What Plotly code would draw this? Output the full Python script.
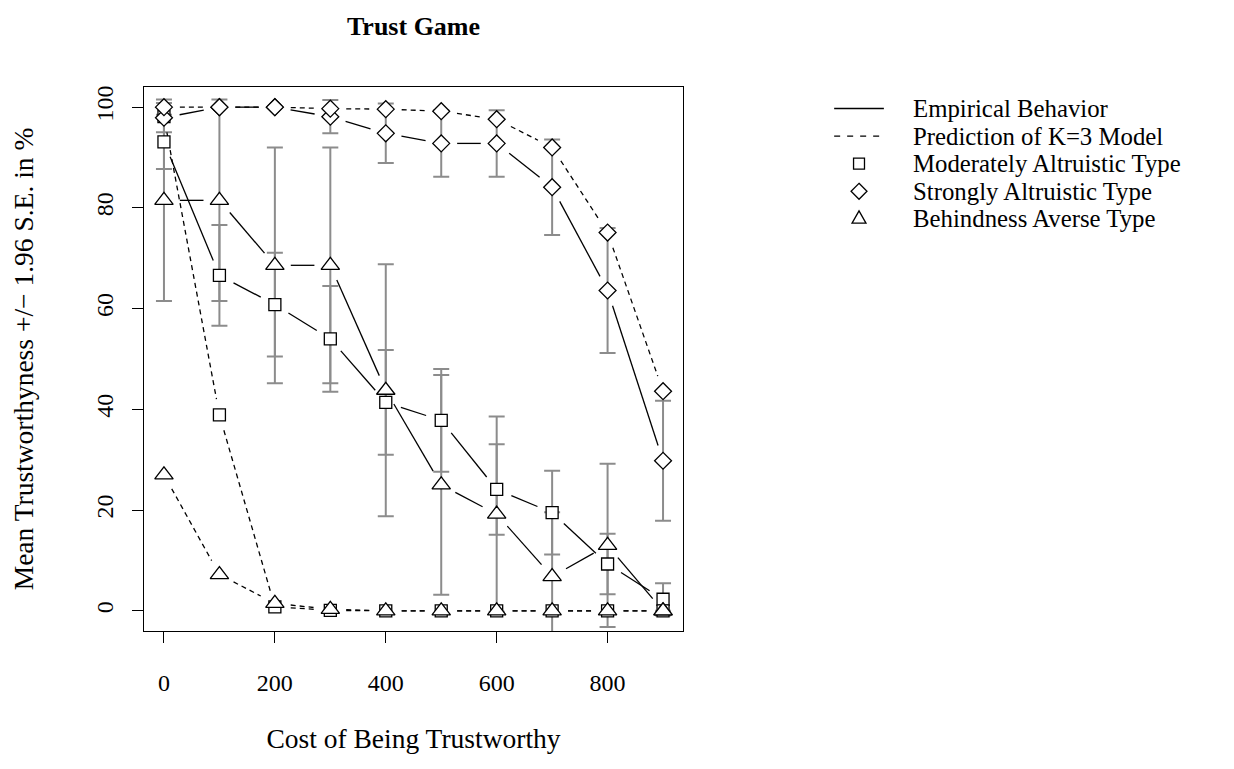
import math
import plotly.graph_objects as go

cost = [0, 100, 200, 300, 400, 500, 600, 700, 800, 900]

# Moderately altruistic type (squares)
mod_emp = [93.1, 66.6, 60.8, 54.0, 41.4, 37.8, 24.1, 19.5, 9.3, 2.3]
mod_err = [5.4, 10.0, 10.3, 10.5, 10.4, 10.2, 9.0, 8.3, 6.0, 3.2]
mod_pred = [98.1, 38.9, 0.8, 0.1, 0.0, 0.0, 0.0, 0.0, 0.0, 0.0]

# Strongly altruistic type (diamonds)
str_emp = [97.9, 100.0, 100.0, 98.1, 94.8, 92.8, 92.8, 84.1, 63.6, 29.8]
str_err = [2.9, 0.0, 0.0, 3.3, 5.9, 6.6, 6.6, 9.5, 12.4, 11.9]
str_pred = [100.0, 100.0, 100.0, 99.7, 99.6, 99.2, 97.6, 92.0, 75.1, 43.6]

# Behindness averse type (triangles)
beh_emp = [81.5, 81.5, 68.6, 68.6, 43.8, 25.0, 19.2, 6.8, 13.0, 0.0]
beh_err = [20.0, 20.0, 23.4, 23.4, 25.0, 21.8, 19.4, 12.8, 16.2, 0.0]
beh_pred = [27.0, 7.2, 1.5, 0.3, 0.0, 0.0, 0.0, 0.0, 0.0, 0.0]

x_ticks = [0, 200, 400, 600, 800]
y_ticks = [0, 20, 40, 60, 80, 100]

legend_labels = ["Empirical Behavior", "Prediction of K=3 Model",
                 "Moderately Altruistic Type", "Strongly Altruistic Type",
                 "Behindness Averse Type"]

XR = [-36, 936]
YR = [-4, 104]
OFF = 8                      # page body margin
L, R, T, B = 141, 683, 87, 631   # plot box in page pixels
W, H = 1234 - 2 * OFF, 769 - 2 * OFF
PW, PH = R - L, B - T
PXX = PW / (XR[1] - XR[0])
PXY = PH / (YR[1] - YR[0])
GAP = 16

FONT = "Liberation Serif, Times New Roman, serif"
GRAY = "#8c8c8c"


def px_x(px):
    return (px - L) / PW


def px_y(py):
    return (B - py) / PH


def gapped(xs, ys, gap=GAP):
    ox, oy = [], []
    for i in range(len(xs) - 1):
        dx = (xs[i + 1] - xs[i]) * PXX
        dy = (ys[i + 1] - ys[i]) * PXY
        ln = math.hypot(dx, dy)
        if ln <= 2 * gap:
            continue
        f = gap / ln
        ox += [xs[i] + f * (xs[i + 1] - xs[i]), xs[i + 1] - f * (xs[i + 1] - xs[i]), None]
        oy += [ys[i] + f * (ys[i + 1] - ys[i]), ys[i + 1] - f * (ys[i + 1] - ys[i]), None]
    return ox, oy


fig = go.Figure()

# error bars
for emp, err in [(mod_emp, mod_err), (str_emp, str_err), (beh_emp, beh_err)]:
    fig.add_trace(go.Scatter(
        x=cost, y=emp, mode="markers",
        marker=dict(size=1, color="rgba(0,0,0,0)"),
        error_y=dict(type="data", array=err, visible=True, color=GRAY,
                     thickness=2, width=8),
        showlegend=False, hoverinfo="skip", cliponaxis=False))

series = [
    (mod_emp, mod_pred, "square", 12),
    (str_emp, str_pred, "diamond", 13),
    (beh_emp, beh_pred, "triangle-up", 16),
]

DASH = "5px,4px"
for emp, pred, sym, sz in series:
    for vals, dash in [(emp, "solid"), (pred, DASH)]:
        gx, gy = gapped(cost, vals)
        fig.add_trace(go.Scatter(
            x=gx, y=gy, mode="lines",
            line=dict(color="black", width=1.3, dash=dash),
            showlegend=False, hoverinfo="skip", connectgaps=False))
    for vals in (emp, pred):
        fig.add_trace(go.Scatter(
            x=cost, y=vals, mode="markers",
            marker=dict(symbol=sym, size=sz, color="white",
                        line=dict(color="black", width=1.3)),
            showlegend=False, cliponaxis=False))

# manual legend (R style)
LEG_X0, LEG_X1, LEG_XC, LEG_TX = 835, 885, 860, 912
rows = [108.5, 136.1, 163.7, 191.3, 218.9]
shapes = []
annotations = []
for i, lab in enumerate(legend_labels):
    annotations.append(dict(text=lab, xref="paper", yref="paper", x=px_x(LEG_TX),
                            y=px_y(rows[i]), xanchor="left", yanchor="middle",
                            showarrow=False, font=dict(family=FONT, size=24.8, color="black")))
shapes.append(dict(type="line", xref="paper", yref="paper", x0=px_x(LEG_X0), x1=px_x(LEG_X1),
                   y0=px_y(rows[0]), y1=px_y(rows[0]), line=dict(color="black", width=1.3)))
shapes.append(dict(type="line", xref="paper", yref="paper", x0=px_x(LEG_X0), x1=px_x(LEG_X1),
                   y0=px_y(rows[1]), y1=px_y(rows[1]),
                   line=dict(color="black", width=1.3, dash="6px,7px")))


def glyph(pts, cy):
    d = "M " + " L ".join(f"{px_x(LEG_XC + dx)},{px_y(cy + dy)}" for dx, dy in pts) + " Z"
    return dict(type="path", xref="paper", yref="paper", path=d,
                line=dict(color="black", width=1.3), fillcolor="white")


shapes.append(glyph([(-5.5, -5.5), (5.5, -5.5), (5.5, 5.5), (-5.5, 5.5)], rows[2]))
shapes.append(glyph([(0, -8), (8, 0), (0, 8), (-8, 0)], rows[3]))
shapes.append(glyph([(0, -8), (7, 4.2), (-7, 4.2)], rows[4]))

axis_common = dict(showline=True, linecolor="black", linewidth=1.3, mirror=True,
                   ticks="outside", ticklen=11, tickwidth=1.3, tickcolor="black",
                   showgrid=False, zeroline=False,
                   tickfont=dict(family=FONT, size=24, color="black"))

fig.update_layout(
    width=W, height=H,
    margin=dict(l=L - OFF, r=W - (R - OFF), t=T - OFF, b=H - (B - OFF)),
    paper_bgcolor="white", plot_bgcolor="white",
    showlegend=False,
    title=dict(text="<b>Trust Game</b>", x=0.5, xref="paper", y=1 - (26 - OFF) / H,
               yanchor="middle", font=dict(family=FONT, size=26, color="black")),
    xaxis=dict(range=XR, tickvals=x_ticks, ticktext=[str(v) for v in x_ticks],
               ticklabelstandoff=19,
               title=dict(text="Cost of Being Trustworthy", standoff=33,
                          font=dict(family=FONT, size=27.5, color="black")),
               **axis_common),
    yaxis=dict(range=YR, tickvals=y_ticks, ticktext=[str(v) for v in y_ticks],
               tickangle=-90, ticklabelstandoff=9,
               title=dict(text="Mean Trustworthyness +/\u2212 1.96 S.E. in %", standoff=53,
                          font=dict(family=FONT, size=27.5, color="black")),
               **axis_common),
    shapes=shapes,
    annotations=annotations,
)

fig.write_html("out.html")
